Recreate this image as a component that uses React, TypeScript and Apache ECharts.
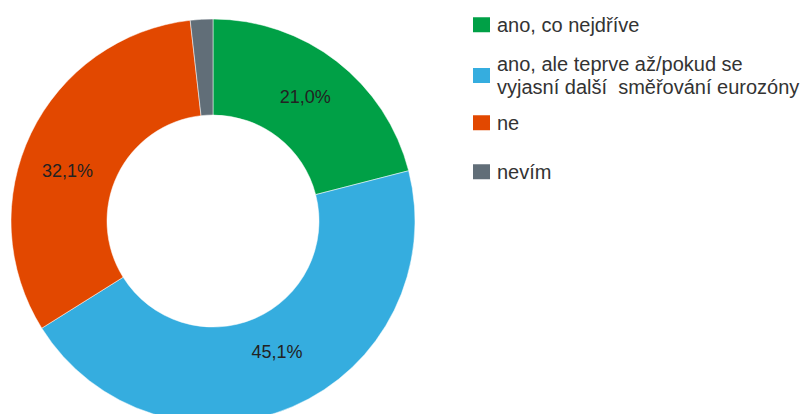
import React, { useEffect, useRef } from "react";
import * as echarts from "echarts";

const categories = [
  "ano, co nejdříve",
  "ano, ale teprve až/pokud se\nvyjasní další  směřování eurozóny",
  "ne",
  "nevím",
];
const values = [21.0, 45.1, 32.1, 1.8];
const colors = ["#00a046", "#35addf", "#e24800", "#616e78"];
const legendTops = [13, 52, 111, 160];
const labelOffsets = [[-4, 0], [2, -13], [-4, 18], [0, 0]];

export default function App() {
  const ref = useRef<HTMLDivElement>(null);
  useEffect(() => {
    if (!ref.current) return;
    const chart = echarts.init(ref.current, undefined, { renderer: "svg" });
    chart.setOption({
      animation: false,
      backgroundColor: "#ffffff",
      legend: categories.map((c, i) => ({
        orient: "vertical",
        left: 473,
        top: legendTops[i],
        padding: 0,
        data: [c],
        icon: "rect",
        itemWidth: 17,
        itemHeight: 15,
        selectedMode: false,
        itemStyle: { borderWidth: 0 },
        textStyle: {
          fontFamily: "'Liberation Sans', Arial, sans-serif",
          fontSize: 20,
          lineHeight: 23.5,
          color: "#333333",
          padding: [0, 0, 0, 2],
        },
      })),
      series: [
        {
          type: "pie",
          center: [213, 221],
          radius: [106, 202],
          startAngle: 90,
          clockwise: true,
          avoidLabelOverlap: false,
          label: {
            show: true,
            position: "inside",
            formatter: (p: any) => p.value.toFixed(1).replace(".", ",") + "%",
            fontFamily: "'Liberation Sans', Arial, sans-serif",
            fontSize: 18,
            color: "#222222",
          },
          labelLine: { show: false },
          itemStyle: { borderColor: "#ffffff", borderWidth: 0.5 },
          emphasis: { disabled: true },
          data: categories.map((c, i) => ({
            name: c,
            value: values[i],
            itemStyle: { color: colors[i] },
            label: { show: i < 3, offset: labelOffsets[i] },
          })),
        },
      ],
    });
    return () => chart.dispose();
  }, []);
  return (
    <div
      ref={ref}
      style={{ position: "fixed", left: 0, top: 0, width: 806, height: 414 }}
    />
  );
}
